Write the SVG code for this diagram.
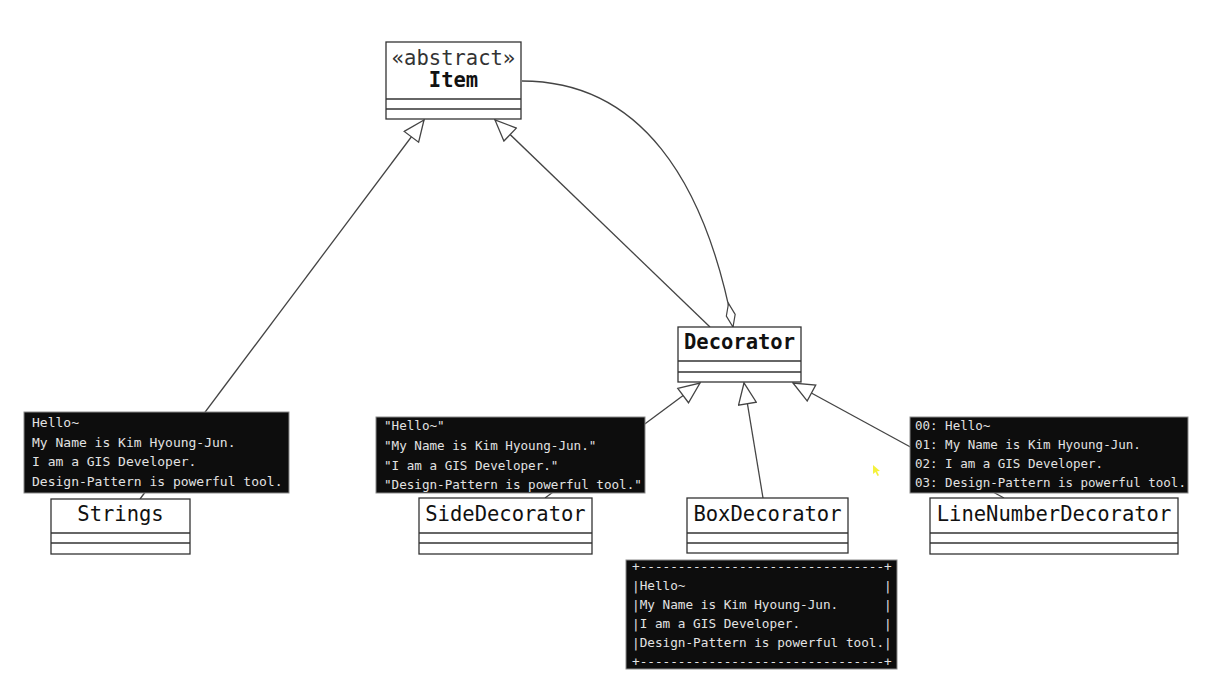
<svg xmlns="http://www.w3.org/2000/svg" width="1218" height="682" viewBox="0 0 1218 682">
  <style>
    .box { fill: #ffffff; stroke: #333333; stroke-width: 1.3; }
    .div { stroke: #333333; stroke-width: 1.3; }
    .name { font-family: "DejaVu Sans Mono", monospace; font-size: 20.5px; fill: #111111; text-anchor: middle; }
    .stereo { fill: #333333; }
    .bold { font-weight: bold; }
    .edge { fill: none; stroke: #444444; stroke-width: 1.3; }
    .console { fill: #0d0d0d; stroke: #8a8a8a; stroke-width: 1; }
    .out { font-family: "DejaVu Sans Mono", monospace; fill: #e2e2e2; white-space: pre; }
  </style>
  <defs>
    <marker id="gen" markerUnits="userSpaceOnUse" markerWidth="24" markerHeight="20" viewBox="0 0 24 20" refX="23" refY="10" orient="auto">
      <path d="M2,1 L23,10 L2,19 Z" fill="#ffffff" stroke="#444444" stroke-width="1.3"/>
    </marker>
    <marker id="agg" markerUnits="userSpaceOnUse" markerWidth="28" markerHeight="12" viewBox="0 0 28 12" refX="26" refY="6" orient="auto">
      <path d="M2,6 L14,1.5 L26,6 L14,10.5 Z" fill="#ffffff" stroke="#444444" stroke-width="1.2"/>
    </marker>
  </defs>
  <rect width="1218" height="682" fill="#ffffff"/>

  <!-- connectors -->
  <g id="connectors">
    <path class="edge" d="M140,499 L424,120" marker-end="url(#gen)"/>
    <path class="edge" d="M710,327 L495,120" marker-end="url(#gen)"/>
    <path class="edge" d="M522,81 C640,81 705,180 733,327" marker-end="url(#agg)"/>
    <path class="edge" d="M545,498 L700,383" marker-end="url(#gen)"/>
    <path class="edge" d="M763,498 L744,383" marker-end="url(#gen)"/>
    <path class="edge" d="M1004,498 L793,383" marker-end="url(#gen)"/>
  </g>

  <!-- abstract base class -->
  <g id="item">
    <rect class="box" x="386" y="42" width="135" height="77"/>
    <line class="div" x1="386" y1="99" x2="521" y2="99"/>
    <line class="div" x1="386" y1="109" x2="521" y2="109"/>
    <text class="name stereo" x="453.5" y="65">«abstract»</text>
    <text class="name bold" x="453.5" y="87">Item</text>
  </g>

  <g id="decorator">
    <rect class="box" x="678" y="327" width="123" height="55"/>
    <line class="div" x1="678" y1="361" x2="801" y2="361"/>
    <line class="div" x1="678" y1="372" x2="801" y2="372"/>
    <text class="name bold" x="739.5" y="349">Decorator</text>
  </g>

  <!-- console outputs -->
  <g id="strings-output">
    <rect class="console" x="24" y="412" width="265" height="81"/>
    <text class="out" x="32" y="427" font-size="13">Hello~</text>
    <text class="out" x="32" y="447" font-size="13">My Name is Kim Hyoung-Jun.</text>
    <text class="out" x="32" y="466" font-size="13">I am a GIS Developer.</text>
    <text class="out" x="32" y="486" font-size="13">Design-Pattern is powerful tool.</text>
  </g>

  <g id="side-output">
    <rect class="console" x="376" y="417" width="269" height="76"/>
    <text class="out" x="384" y="430" font-size="12.6">"Hello~"</text>
    <text class="out" x="384" y="450" font-size="12.6">"My Name is Kim Hyoung-Jun."</text>
    <text class="out" x="384" y="470" font-size="12.6">"I am a GIS Developer."</text>
    <text class="out" x="384" y="489" font-size="12.6">"Design-Pattern is powerful tool."</text>
  </g>

  <g id="box-output">
    <rect class="console" x="626" y="560" width="271" height="109"/>
    <text class="out" x="632" y="571" font-size="12.7" xml:space="preserve">+--------------------------------+</text>
    <text class="out" x="632" y="590" font-size="12.7" xml:space="preserve">|Hello~                          |</text>
    <text class="out" x="632" y="609" font-size="12.7" xml:space="preserve">|My Name is Kim Hyoung-Jun.      |</text>
    <text class="out" x="632" y="628" font-size="12.7" xml:space="preserve">|I am a GIS Developer.           |</text>
    <text class="out" x="632" y="647" font-size="12.7" xml:space="preserve">|Design-Pattern is powerful tool.|</text>
    <text class="out" x="632" y="666" font-size="12.7" xml:space="preserve">+--------------------------------+</text>
  </g>

  <g id="linenumber-output">
    <rect class="console" x="910" y="417" width="278" height="76"/>
    <text class="out" x="915" y="430" font-size="12.5">00: Hello~</text>
    <text class="out" x="915" y="449" font-size="12.5">01: My Name is Kim Hyoung-Jun.</text>
    <text class="out" x="915" y="468" font-size="12.5">02: I am a GIS Developer.</text>
    <text class="out" x="915" y="487" font-size="12.5">03: Design-Pattern is powerful tool.</text>
  </g>

  <!-- concrete classes -->
  <g id="strings">
    <rect class="box" x="51" y="499" width="139" height="55"/>
    <line class="div" x1="51" y1="533" x2="190" y2="533"/>
    <line class="div" x1="51" y1="543" x2="190" y2="543"/>
    <text class="name" x="120.5" y="521">Strings</text>
  </g>

  <g id="side-decorator">
    <rect class="box" x="419" y="498" width="173" height="56"/>
    <line class="div" x1="419" y1="533" x2="592" y2="533"/>
    <line class="div" x1="419" y1="543" x2="592" y2="543"/>
    <text class="name" x="505.5" y="521">SideDecorator</text>
  </g>

  <g id="box-decorator">
    <rect class="box" x="687" y="498" width="161" height="55"/>
    <line class="div" x1="687" y1="533" x2="848" y2="533"/>
    <line class="div" x1="687" y1="543" x2="848" y2="543"/>
    <text class="name" x="767.5" y="521">BoxDecorator</text>
  </g>

  <g id="linenumber-decorator">
    <rect class="box" x="930" y="498" width="248" height="56"/>
    <line class="div" x1="930" y1="533" x2="1178" y2="533"/>
    <line class="div" x1="930" y1="543" x2="1178" y2="543"/>
    <text class="name" x="1054" y="521">LineNumberDecorator</text>
  </g>

  <!-- pointer -->
  <path d="M873,465 L873,474 L875.5,472 L877.5,476 L879,475.3 L877,471.3 L880,471 Z" fill="#f2ee1a" opacity="0.85"/>
</svg>
